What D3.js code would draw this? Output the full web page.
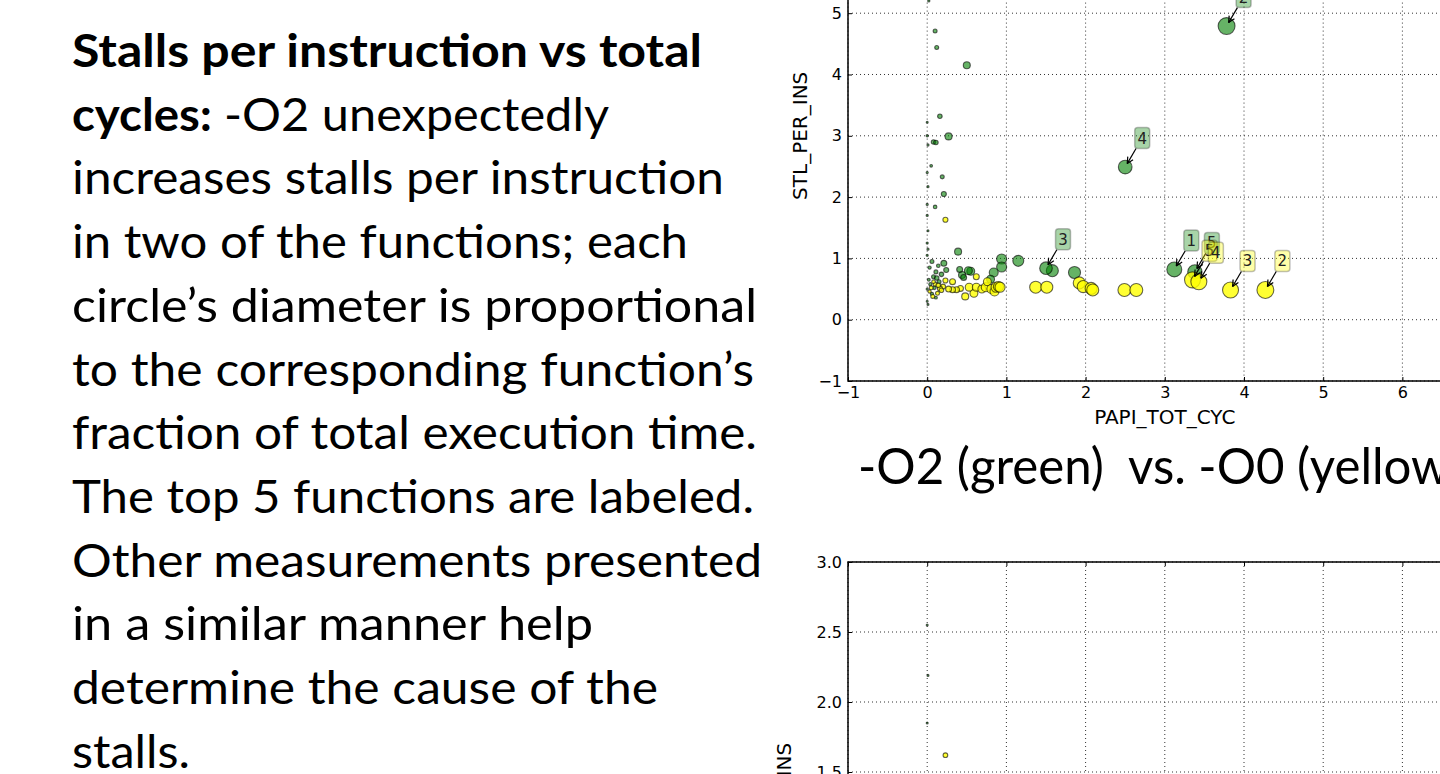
<!DOCTYPE html>
<html>
<head>
<meta charset="utf-8">
<script src="https://cdn.jsdelivr.net/npm/d3@7"></script>
<style>
  body { margin: 0; background: #fff; }
  svg { display: block; }
  .body-text { font-family: Lato, "Open Sans", sans-serif; font-size: 46px; fill: #000; white-space: pre; }
  .axis text { font-family: "DejaVu Sans", sans-serif; font-size: 16px; fill: #000; }
  .axis line { stroke: #000; stroke-width: 1; }
  .axis .domain { display: none; }
  .axis-label { font-family: "DejaVu Sans", sans-serif; font-size: 20px; fill: #000; }
  .grid line { stroke: #333; stroke-width: 1; stroke-dasharray: 1,3; }
  .frame { fill: none; stroke: #000; stroke-width: 1.5; }
  .tag text { font-family: "DejaVu Sans", sans-serif; font-size: 15px; fill: #222; }
</style>
</head>
<body>
<div id="chart"></div>
<script>

// Texto explicativo (linhas, com trechos em negrito)
var bodyLines = [
  [["Stalls per instruction vs total", true]],
  [["cycles:", true], ["-O2 unexpectedly", false]],
  [["increases stalls per instruction", false]],
  [["in two of the functions; each", false]],
  [["circle\u2019s diameter is proportional", false]],
  [["to the corresponding function\u2019s", false]],
  [["fraction of total execution time.", false]],
  [["The top 5 functions are labeled.", false]],
  [["Other measurements presented", false]],
  [["in a similar manner help", false]],
  [["determine the cause of the", false]],
  [["stalls.", false]]
];
var subtitle = "-O2 (green)  vs. -O0 (yellow)";

// Eixos (só os ticks visíveis)
var xTicks = [-1, 0, 1, 2, 3, 4, 5, 6];
var yTicksTop = [-1, 0, 1, 2, 3, 4, 5];
var yTicksBottom = [1.5, 2.0, 2.5, 3.0];
var xLabel = "PAPI_TOT_CYC";
var yLabel = "STL_PER_INS";

// -O2 (verde): [rank, PAPI_TOT_CYC, STL_PER_INS, % do tempo]
var o2Top = [
  [1, 3.12, 0.82, 8.3],
  [5, 3.38, 0.78, 8.0],
  [2, 3.78, 4.79, 9.4],
  [4, 2.50, 2.49, 7.6],
  [3, 1.50, 0.84, 7.0]
];
// -O2 demais funções: [PAPI_TOT_CYC, STL_PER_INS, % do tempo]
var o2Other = [
  [1.58, 0.80, 6.7], [1.86, 0.77, 6.7], [1.15, 0.96, 6.1], [0.94, 0.99, 5.6],
  [0.94, 0.86, 5.6], [0.84, 0.77, 5.0], [0.80, 0.66, 4.4], [0.39, 1.11, 3.9],
  [0.55, 0.79, 4.4], [0.52, 0.80, 4.4], [0.44, 0.73, 3.9], [0.46, 0.69, 3.3],
  [0.41, 0.82, 3.3], [0.21, 0.92, 3.3], [0.24, 0.81, 2.8], [0.11, 0.78, 2.2],
  [0.50, 4.15, 3.9], [0.10, 4.71, 2.2], [0.12, 4.44, 2.2], [0.16, 3.32, 2.5],
  [0.27, 2.99, 3.9], [0.08, 2.90, 2.5], [0.11, 2.89, 2.5], [0.19, 2.33, 2.2],
  [0.21, 2.05, 2.8], [0.10, 1.84, 2.0], [0.05, 2.51, 1.5], [0.02, 5.20, 1.2],
  [0.06, 0.95, 2.2], [0.03, 0.85, 1.8], [0.08, 0.70, 2.2], [0.12, 0.68, 2.5],
  [0.15, 0.62, 2.2], [0.04, 0.58, 1.8], [0.02, 0.65, 1.6], [0.09, 0.52, 2.0],
  [0.06, 0.42, 1.8], [0.11, 0.36, 1.6], [0.18, 0.74, 2.5], [0.14, 0.88, 2.0],
  [0.00, 3.00, 1.3], [0.01, 2.85, 1.2], [0.00, 2.40, 1.2], [0.01, 2.17, 1.2],
  [0.00, 1.88, 1.2], [0.00, 3.22, 1.1], [0.00, 1.70, 1.2], [0.01, 1.45, 1.1],
  [0.00, 1.25, 1.2], [0.01, 1.15, 1.2], [0.00, 1.05, 1.2], [0.00, 0.50, 1.2],
  [0.00, 0.30, 1.1], [0.01, 0.25, 1.1]
];

// -O0 (amarelo)
var o0Top = [
  [2, 4.27, 0.485, 9.4],
  [3, 3.83, 0.485, 8.9],
  [5, 3.35, 0.65, 8.9],
  [4, 3.43, 0.62, 8.9]
];
var o0Other = [
  [2.49, 0.485, 7.2], [2.64, 0.485, 7.2], [1.37, 0.53, 6.7], [1.51, 0.53, 6.7],
  [1.92, 0.60, 6.7], [1.97, 0.54, 6.7], [2.07, 0.51, 6.7], [2.09, 0.485, 6.7],
  [0.23, 1.63, 2.8], [0.48, 0.38, 3.9], [0.59, 0.43, 4.4], [0.53, 0.53, 4.4],
  [0.62, 0.53, 4.4], [0.69, 0.50, 4.4], [0.74, 0.53, 5.0], [0.76, 0.62, 4.4],
  [0.81, 0.50, 5.0], [0.85, 0.46, 5.0], [0.87, 0.53, 5.6], [0.90, 0.54, 5.6],
  [0.92, 0.53, 5.6], [0.62, 0.70, 3.3], [0.32, 0.62, 3.3], [0.42, 0.51, 3.3],
  [0.37, 0.49, 3.3], [0.32, 0.49, 3.3], [0.27, 0.50, 3.3], [0.23, 0.64, 2.8],
  [0.20, 0.54, 2.8], [0.16, 0.51, 2.8], [0.13, 0.43, 2.2], [0.07, 0.38, 2.2],
  [0.05, 0.52, 2.2], [0.10, 0.58, 2.2], [0.03, 0.46, 1.8], [0.14, 0.56, 2.5],
  [0.08, 0.62, 2.0], [0.18, 0.48, 2.5]
];

// Segundo gráfico (parte visível)
var o2Lower = [[0.00, 2.55, 1.0], [0.01, 2.19, 1.1], [0.00, 1.85, 1.0]];
var o0Lower = [[0.23, 1.62, 2.6]];

// Layout do texto (início/fim horizontal de cada trecho)
var bodySpans = [
  [[72, 702]], [[72, 212], [224, 609]], [[72, 724]], [[72, 688]],
  [[72, 757]], [[72, 754]], [[72, 757]], [[72, 754]],
  [[72, 762]], [[72, 593]], [[72, 658]], [[72, 190]]
];

var W = 1440, H = 774;
var svg = d3.select("#chart").append("svg")
  .attr("width", W).attr("height", H);

// Texto à esquerda
bodyLines.forEach(function(line, i) {
  var baseline = 67 + i * 63.7;
  line.forEach(function(piece, j) {
    var span = bodySpans[i][j];
    svg.append("text")
      .attr("class", "body-text")
      .attr("x", span[0])
      .attr("y", baseline)
      .attr("font-weight", piece[1] ? 700 : 400)
      .attr("textLength", span[1] - span[0])
      .attr("lengthAdjust", "spacingAndGlyphs")
      .text(piece[0]);
  });
});

// Escalas
var unitX = 79.2;
var xScale = d3.scaleLinear().domain([-1, 7]).range([0, 8 * unitX]);
var topPlot = { left: 848, top: 381 - 8 * 61.3, height: 8 * 61.3 };
var yTop = d3.scaleLinear().domain([-1, 7]).range([topPlot.height, 0]);
var botPlot = { left: 848, top: 562, height: 3.5 * 140 };
var yBot = d3.scaleLinear().domain([-0.5, 3.0]).range([botPlot.height, 0]);
var rScale = d3.scaleLinear().domain([0, 10]).range([0, 9]);
var plotW = 8 * unitX;

function drawPanel(p, yScale, yTicks, yFmt, clipId, showBottomAxis) {
  var g = svg.append("g")
    .attr("transform", "translate(" + p.left + "," + p.top + ")");

  g.append("clipPath").attr("id", clipId)
    .append("rect").attr("width", plotW).attr("height", p.height);

  // grade pontilhada
  var grid = g.append("g").attr("class", "grid");
  grid.selectAll(".gx").data(xTicks).enter().append("line")
    .attr("x1", function(d) { return xScale(d); })
    .attr("x2", function(d) { return xScale(d); })
    .attr("y1", 0).attr("y2", p.height);
  grid.selectAll(".gy").data(yTicks).enter().append("line")
    .attr("x1", 0).attr("x2", plotW)
    .attr("y1", function(d) { return yScale(d); })
    .attr("y2", function(d) { return yScale(d); });

  // eixos com ticks para dentro
  g.append("g").attr("class", "axis")
    .call(d3.axisLeft(yScale).tickValues(yTicks).tickFormat(yFmt)
      .tickSizeInner(-4).tickSizeOuter(0).tickPadding(6));
  if (showBottomAxis) {
    g.append("g").attr("class", "axis")
      .attr("transform", "translate(0," + p.height + ")")
      .call(d3.axisBottom(xScale).tickValues(xTicks)
        .tickSizeInner(-4).tickSizeOuter(0).tickPadding(6));
  }
  g.append("g").attr("class", "axis")
    .call(d3.axisTop(xScale).tickValues(xTicks).tickFormat("")
      .tickSizeInner(-4).tickSizeOuter(0));

  g.append("rect").attr("class", "frame")
    .attr("width", plotW).attr("height", p.height);

  return g.append("g").attr("clip-path", "url(#" + clipId + ")");
}

function drawPoints(layer, rows, yScale, color, alpha, xi) {
  layer.selectAll(null).data(rows).enter().append("circle")
    .attr("cx", function(d) { return xScale(d[xi]); })
    .attr("cy", function(d) { return yScale(d[xi + 1]); })
    .attr("r", function(d) { return Math.max(1, rScale(d[xi + 2])); })
    .attr("fill", color)
    .attr("fill-opacity", alpha)
    .attr("stroke", "#000")
    .attr("stroke-opacity", 0.6)
    .attr("stroke-width", 1.1);
}

function drawTags(layer, rows, yScale, color) {
  rows.forEach(function(d) {
    var px = xScale(d[1]), py = yScale(d[2]);
    var cx = px + 17, cy = py - 29;
    var t = layer.append("g").attr("class", "tag");
    // seta
    var dx = px - cx, dy = py - cy, len = Math.sqrt(dx * dx + dy * dy);
    var ux = dx / len, uy = dy / len;
    var sx = cx + ux * (10.5 / uy), sy = cy + 10.5;
    var ex = px - ux * 4, ey = py - uy * 4;
    t.append("line").attr("x1", sx).attr("y1", sy).attr("x2", ex).attr("y2", ey)
      .attr("stroke", "#000").attr("stroke-width", 1.2);
    [0.45, -0.45].forEach(function(a) {
      var c = Math.cos(a), s = Math.sin(a);
      var hx = -(ux * c - uy * s), hy = -(ux * s + uy * c);
      t.append("line").attr("x1", ex).attr("y1", ey)
        .attr("x2", ex + hx * 7).attr("y2", ey + hy * 7)
        .attr("stroke", "#000").attr("stroke-width", 1.2);
    });
    t.append("rect")
      .attr("x", cx - 7.5).attr("y", cy - 10.5)
      .attr("width", 15).attr("height", 21).attr("rx", 3)
      .attr("fill", color).attr("fill-opacity", 0.34)
      .attr("stroke", "#000").attr("stroke-opacity", 0.25).attr("stroke-width", 1.5);
    t.append("text")
      .attr("x", cx).attr("y", cy + 5.5)
      .attr("text-anchor", "middle")
      .text(d[0]);
  });
}

// Gráfico superior
var topLayer = drawPanel(topPlot, yTop, yTicksTop, d3.format("d"), "clipTop", true);
drawPoints(topLayer, o2Other, yTop, "#008000", 0.6, 0);
drawPoints(topLayer, o2Top, yTop, "#008000", 0.6, 1);
drawPoints(topLayer, o0Other, yTop, "#ffff00", 0.8, 0);
drawPoints(topLayer, o0Top, yTop, "#ffff00", 0.8, 1);
drawTags(svg.append("g").attr("transform", "translate(" + topPlot.left + "," + topPlot.top + ")"), o2Top, yTop, "#008000");
drawTags(svg.append("g").attr("transform", "translate(" + topPlot.left + "," + topPlot.top + ")"), o0Top, yTop, "#ffff00");

svg.append("text").attr("class", "axis-label")
  .attr("x", topPlot.left + plotW / 2).attr("y", 424)
  .attr("text-anchor", "middle").text(xLabel);
svg.append("text").attr("class", "axis-label")
  .attr("transform", "translate(807," + (topPlot.top + topPlot.height / 2) + ") rotate(-90)")
  .attr("text-anchor", "middle").text(yLabel);

// Legenda das cores
var sub = svg.append("text").attr("class", "body-text")
  .attr("x", 858).attr("y", 484)
  .style("font-size", "50px")
  .text(subtitle);
var probe = svg.append("text").attr("class", "body-text")
  .style("font-size", "50px").text("-O2 (green)");
var k = 246 / probe.node().getComputedTextLength();
sub.attr("textLength", sub.node().getComputedTextLength() * k)
  .attr("lengthAdjust", "spacingAndGlyphs");
probe.remove();

// Gráfico inferior
var botLayer = drawPanel(botPlot, yBot, yTicksBottom, d3.format(".1f"), "clipBot", false);
drawPoints(botLayer, o2Lower, yBot, "#008000", 0.6, 0);
drawPoints(botLayer, o0Lower, yBot, "#ffff00", 0.8, 0);
svg.append("text").attr("class", "axis-label")
  .attr("transform", "translate(791," + (botPlot.top + botPlot.height / 2) + ") rotate(-90)")
  .attr("text-anchor", "middle").text(yLabel);

</script>
</body>
</html>
